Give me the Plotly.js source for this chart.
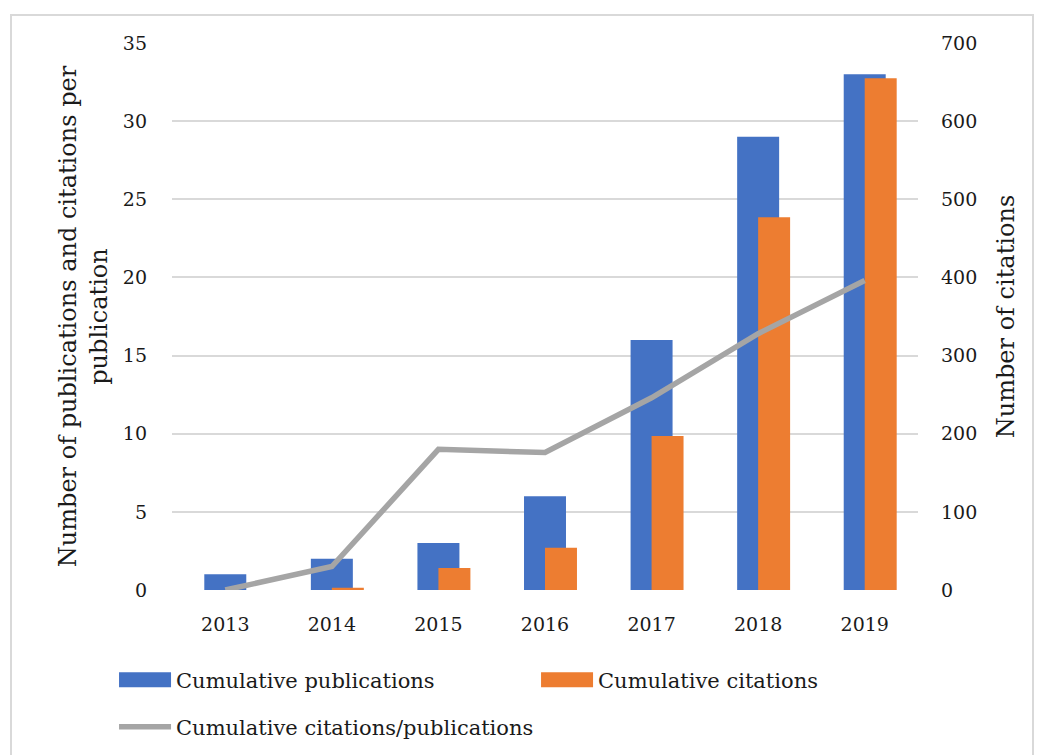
<!DOCTYPE html>
<html>
<head>
<meta charset="utf-8">
<script src="https://cdn.plot.ly/plotly-3.0.1.min.js"></script>
<style>
html,body{margin:0;padding:0;background:#fff;}
#wrap{position:relative;width:1043px;height:755px;overflow:hidden;}
#frame{position:absolute;left:10px;top:14px;width:1020px;height:760px;border:2px solid #d9d9d9;pointer-events:none;}
#chart{position:absolute;left:0;top:0;width:1043px;height:755px;}
</style>
</head>
<body>
<div id="wrap"><div id="chart"></div><div id="frame"></div></div>
<script>
const years = ['2013','2014','2015','2016','2017','2018','2019'];
const cumulativePublications = [1, 2, 3, 6, 16, 29, 33];
const cumulativeCitations = [0, 3, 28, 54, 197, 477, 655];
const citationsPerPublication = [0, 1.5, 9.0, 8.8, 12.3, 16.4, 19.8];
const seriesNames = ['Cumulative publications', 'Cumulative citations', 'Cumulative citations/publications'];
const leftTicks = [0,5,10,15,20,25,30,35];
const rightTicks = [0,100,200,300,400,500,600,700];

const FONT = 'DejaVu Serif, serif';
const txt = '#1a1a1a';

const traces = [
  {type:'bar', x:years, y:cumulativePublications, name:seriesNames[0], yaxis:'y',
   width:0.394, offset:-0.197, marker:{color:'#4472C4'}, legend:'legend', hoverinfo:'x+y'},
  {type:'bar', x:years, y:cumulativeCitations, name:seriesNames[1], yaxis:'y2',
   width:0.3, offset:0, marker:{color:'#ED7D31'}, legend:'legend3', hoverinfo:'x+y'},
  {type:'scatter', mode:'lines', x:years, y:citationsPerPublication, name:seriesNames[2], yaxis:'y3',
   line:{color:'#A5A5A5', width:5.5}, legend:'legend2', hoverinfo:'x+y'}
];

const legBase = {orientation:'h', xanchor:'left', yanchor:'middle', itemwidth:52,
                 font:{size:21, color:txt}, bgcolor:'rgba(0,0,0,0)'};

const layout = {
  width:1043, height:755,
  margin:{l:172, r:125, t:43, b:165, autoexpand:false},
  paper_bgcolor:'rgba(0,0,0,0)', plot_bgcolor:'rgba(0,0,0,0)',
  font:{family:FONT, color:txt, size:19},
  barmode:'overlay',
  showlegend:true,
  xaxis:{type:'category', showgrid:false, zeroline:false, showline:false,
         ticks:'', tickfont:{size:19, color:txt}, ticklabelstandoff:21, fixedrange:true},
  yaxis:{range:[0,35], tickvals:leftTicks, showgrid:true, gridcolor:'#d9d9d9', gridwidth:1.5,
         zeroline:false, showline:false, ticks:'', tickfont:{size:19, color:txt},
         ticklabelstandoff:24,
         title:{text:'Number of publications and citations per<br>publication', font:{size:24, color:txt}, standoff:8}},
  yaxis2:{range:[0,700], tickvals:rightTicks, overlaying:'y', side:'right', showgrid:false,
          zeroline:false, showline:false, ticks:'', tickfont:{size:19, color:txt},
          ticklabelstandoff:22,
          title:{text:'Number of citations', font:{size:24, color:txt}, standoff:20}},
  yaxis3:{range:[0,35], overlaying:'y', visible:false},
  legend: Object.assign({}, legBase, {x:-0.0777, y:-0.1645}),
  legend3: Object.assign({}, legBase, {x:0.488, y:-0.1645}),
  legend2: Object.assign({}, legBase, {x:-0.0777, y:-0.2505})
};

function widenBarSwatches(gd){
  gd.querySelectorAll('.legendpoints path').forEach(function(p){
    const d = (p.getAttribute('d') || '').replace(/\s/g,'');
    if (d.indexOf('M6,6H-6V-6H6Z') === 0) {
      p.setAttribute('d','M-26,-7.5H26V7.5H-26Z');
    }
  });
}

Plotly.newPlot('chart', traces, layout, {displayModeBar:false}).then(function(gd){
  widenBarSwatches(gd);
  gd.on('plotly_afterplot', function(){ widenBarSwatches(gd); });
  setTimeout(function(){ widenBarSwatches(gd); }, 100);
  setTimeout(function(){ widenBarSwatches(gd); }, 500);
});
</script>
</body>
</html>
